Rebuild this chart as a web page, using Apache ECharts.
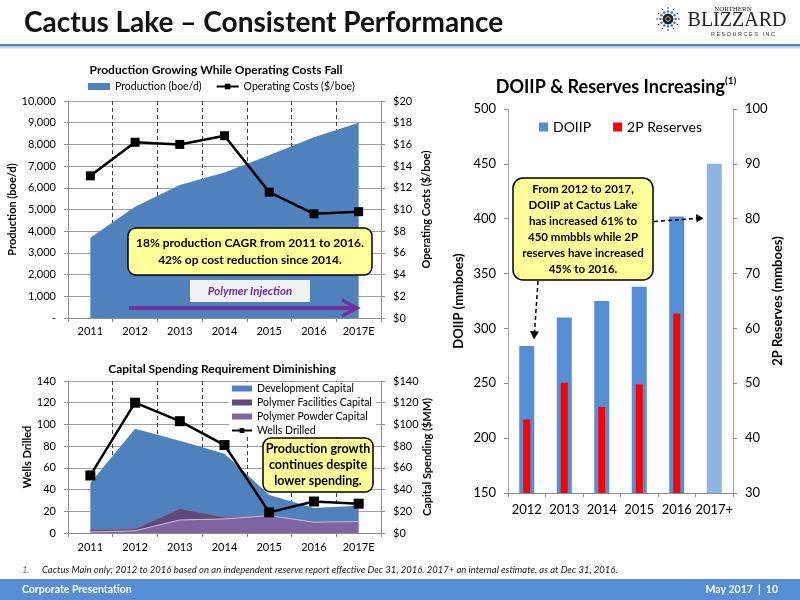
<!DOCTYPE html>
<html>
<head>
<meta charset="utf-8">
<script src="https://cdn.jsdelivr.net/npm/echarts@6/dist/echarts.min.js"></script>
<style>
  html, body { margin: 0; padding: 0; background: #fff; }
  #main { width: 800px; height: 600px; }
</style>
</head>
<body>
<div id="main"></div>
<script>
// production / operating cost chart
const years1 = ['2011', '2012', '2013', '2014', '2015', '2016', '2017E'];
const production = [3700, 5130, 6130, 6700, 7500, 8330, 9000];
const opCost = [13.1, 16.2, 16.0, 16.8, 11.6, 9.6, 9.8];

// capital spending chart (stacked, $MM)
const powderCap = [1, 2, 12, 13, 16, 10, 10.5];
const facilitiesCap = [2, 2, 10.5, 1.5, 0, 0, 0];
const developmentCap = [43, 92, 62.5, 58.5, 19, 13, 14.5];
const wellsDrilled = [53, 120, 103, 81, 19, 29, 27];

// DOIIP & reserves chart
const years3 = ['2012', '2013', '2014', '2015', '2016', '2017+'];
const doiip = [284, 310, 325, 338, 402, 450];
const reserves2p = [43.4, 50.1, 45.7, 49.8, 62.7, null];

const FONT = 'Lato, "Open Sans", sans-serif';
const BLUE = '#4F81BD';

var myChart = echarts.init(document.getElementById('main'));

function catAxis(gridIndex, data, margin, size) {
  return {
    type: 'category',
    gridIndex: gridIndex,
    data: data,
    boundaryGap: true,
    axisLine: { lineStyle: { color: '#8c8c8c' } },
    axisTick: { show: true, length: 4, lineStyle: { color: '#8c8c8c' } },
    axisLabel: { color: '#000', fontSize: size, fontFamily: FONT, margin: margin, interval: 0 },
    splitLine: { show: false }
  };
}

function valAxis(gridIndex, pos, min, max, step, fmt, name, gap, size) {
  return {
    type: 'value',
    gridIndex: gridIndex,
    position: pos,
    min: min,
    max: max,
    interval: step,
    name: name,
    nameLocation: 'middle',
    nameGap: gap,
    nameTextStyle: { color: '#000', fontSize: size, fontWeight: 'bold', fontFamily: FONT },
    axisLine: { show: true, lineStyle: { color: '#8c8c8c' } },
    axisTick: { show: true, length: 4, lineStyle: { color: '#8c8c8c' } },
    axisLabel: { color: '#000', fontSize: size, fontFamily: FONT, margin: 12, formatter: fmt },
    splitLine: { show: false }
  };
}

const dollar = function (v) { return '$' + v; };

var xAxes = [
  catAxis(0, years1, 8, 11),
  catAxis(1, years1, 9, 11),
  catAxis(2, years3, 10, 13),
  Object.assign(catAxis(2, years3, 10, 13), { show: false })
];
// dashed category separators on the two left charts
[0, 1].forEach(function (i) {
  xAxes[i].splitLine = {
    show: true,
    interval: function (idx) { return idx > 0; },
    lineStyle: { color: '#404040', type: [4, 3] }
  };
});

var yAxes = [
  valAxis(0, 'left', 0, 10000, 1000, function (v) { return v === 0 ? '-' : v.toLocaleString('en-US'); },
    'Production (boe/d)', 47, 11),
  valAxis(0, 'right', 0, 20, 2, dollar, 'Operating Costs ($/boe)', 40, 11),
  valAxis(1, 'left', 0, 140, 20, null, 'Wells Drilled', 32, 11),
  valAxis(1, 'right', 0, 140, 20, dollar, 'Capital Spending ($MM)', 40, 11),
  valAxis(2, 'left', 150, 500, 50, null, 'DOIIP (mmboes)', 43, 13),
  valAxis(2, 'right', 30, 100, 10, null, '2P Reserves (mmboes)', 30, 13)
];
yAxes[0].splitLine = { show: true, lineStyle: { color: '#a0a0a0' } };
yAxes[2].splitLine = { show: true, lineStyle: { color: '#a0a0a0' } };
yAxes[4].axisLine.lineStyle.color = '#a6a6a6';
yAxes[5].axisLine.lineStyle.color = '#a6a6a6';

function txt(text, x, y, size, opts) {
  opts = opts || {};
  return {
    type: 'text',
    z: 100,
    style: {
      text: text,
      x: x,
      y: y,
      fill: opts.fill || '#000',
      font: (opts.style || 'normal') + ' ' + (opts.weight || 'normal') + ' ' + size + 'px ' + (opts.family || FONT),
      align: opts.align || 'left',
      textAlign: opts.align || 'left',
      verticalAlign: 'middle',
      textVerticalAlign: 'middle',
      lineHeight: opts.lineHeight || size * 1.2
    }
  };
}

function box(x, y, w, h, r, fill, stroke) {
  return {
    type: 'rect',
    z: 99,
    shape: { x: x, y: y, width: w, height: h, r: r },
    style: { fill: fill, stroke: stroke || null, lineWidth: 1.5 }
  };
}

function line(points, color, width, dash) {
  return {
    type: 'polyline',
    z: 100,
    shape: { points: points },
    style: { stroke: color, lineWidth: width, fill: null, lineDash: dash || null }
  };
}

var graphics = [
  // header
  txt('Cactus Lake \u2013 Consistent Performance', 24, 23, 28, { weight: 'bold', fill: '#111' }),
  box(0, 44, 800, 2.5, 0, '#4F81BD'),
  box(0, 46.5, 800, 2, 0, '#C6D9F1'),
  txt('NORTHERN', 733, 9, 7, { family: '"Liberation Serif", serif', align: 'center', fill: '#222' }),
  txt('BLIZZARD', 737, 21, 20, { family: '"Liberation Serif", serif', align: 'center', fill: '#222' }),
  txt('R E S O U R C E S   I N C', 743, 34, 5.5, { family: '"Liberation Sans", sans-serif', align: 'center', fill: '#333' }),

  // chart titles
  txt('Production Growing While Operating Costs Fall', 216, 70, 12, { weight: 'bold', align: 'center' }),
  txt('Capital Spending Requirement Diminishing', 222, 369, 12, { weight: 'bold', align: 'center' }),
  {
    type: 'text',
    z: 100,
    style: {
      text: '{a|DOIIP & Reserves Increasing}{s|(1)}',
      x: 616, y: 87,
      align: 'center', textAlign: 'center',
      verticalAlign: 'middle', textVerticalAlign: 'middle',
      rich: {
        a: { font: 'bold 18px ' + FONT, fill: '#000', color: '#000', lineHeight: 22 },
        s: { font: 'bold 10px ' + FONT, fill: '#000', color: '#000', verticalAlign: 'top', lineHeight: 12 }
      }
    }
  },

  // chart 1 callouts
  box(128, 228, 244, 47, 8, '#FFFF99', '#000'),
  txt('18% production CAGR from 2011 to 2016.\n42% op cost reduction since 2014.', 250, 251.5, 12,
    { weight: 'bold', align: 'center', lineHeight: 17 }),
  box(190, 280, 120, 22, 0, '#F2F2F2'),
  txt('Polymer Injection', 250, 291, 11.5, { weight: 'bold', style: 'italic', align: 'center', fill: '#7030A0' }),
  line([[129, 308], [355, 308]], '#7030A0', 4),
  line([[342, 300], [357, 308], [342, 316]], '#7030A0', 3.5),

  // chart 2 callout
  box(263, 438, 110, 54, 8, '#FFFF99', '#000'),
  txt('Production growth\ncontinues despite\nlower spending.', 318, 465, 12.5,
    { weight: 'bold', align: 'center', lineHeight: 16 }),

  // chart 3 callout
  box(513, 178, 140, 102, 10, '#FFFF99', '#000'),
  txt('From 2012 to 2017,\nDOIIP at Cactus Lake\nhas increased 61% to\n450 mmbbls while 2P\nreserves have increased\n45% to 2016.',
    583, 229, 11.5, { weight: 'bold', align: 'center', lineHeight: 16 }),
  line([[538, 281], [534.5, 333]], '#000', 1.5, [4, 3]),
  { type: 'polygon', z: 100, shape: { points: [[530, 331], [539, 331.5], [534, 339.5]] }, style: { fill: '#000' } },
  line([[654, 221.5], [697, 218.5]], '#000', 1.5, [4, 3]),
  { type: 'polygon', z: 100, shape: { points: [[696, 214], [703.5, 218.3], [696.5, 222.5]] }, style: { fill: '#000' } },

  // footnote and footer
  txt('1.', 22, 570, 9.5, { style: 'italic', fill: '#4F81BD' }),
  txt('Cactus Main only; 2012 to 2016 based on an independent reserve report effective Dec 31, 2016. 2017+ an internal estimate, as at Dec 31, 2016.',
    42, 570, 9.5, { style: 'italic', fill: '#222' }),
  box(0, 579, 800, 21, 0, '#558ED5'),
  txt('Corporate Presentation', 22, 589.5, 10.5, { weight: 'bold', fill: '#fff' }),
  txt('May 2017  |  10', 778, 589.5, 10.5, { weight: 'bold', fill: '#fff', align: 'right' })
];

// logo snowflake
(function () {
  var cx = 668, cy = 19;
  for (var k = 0; k < 12; k++) {
    var a = k * Math.PI / 6;
    [4, 7.5, 11].forEach(function (r, j) {
      graphics.push({
        type: 'circle', z: 100,
        shape: { cx: cx + r * Math.cos(a), cy: cy + r * Math.sin(a), r: j === 0 ? 1.6 : (j === 1 ? 1.2 : 0.8) },
        style: { fill: j === 1 ? '#3b6fb6' : '#222' }
      });
    });
  }
  graphics.push({ type: 'circle', z: 100, shape: { cx: cx, cy: cy, r: 2 }, style: { fill: '#222' } });
})();

var option = {
  backgroundColor: '#fff',
  animation: false,
  textStyle: { fontFamily: FONT },
  grid: [
    { left: 68, top: 101, width: 313, height: 217 },
    { left: 68, top: 381, width: 313, height: 152 },
    { left: 508, top: 109, width: 225, height: 384 }
  ],
  legend: [
    {
      left: 88, top: 81, padding: 0, itemGap: 14, itemWidth: 22, itemHeight: 7,
      textStyle: { fontSize: 10.5, color: '#000', fontFamily: FONT },
      data: [{ name: 'Production (boe/d)', icon: 'rect' }, 'Operating Costs ($/boe)']
    },
    {
      left: 229, top: 382, orient: 'vertical', padding: [1, 4, 1, 2], itemGap: 3, itemWidth: 20, itemHeight: 6,
      backgroundColor: '#fff',
      textStyle: { fontSize: 10.5, color: '#000', fontFamily: FONT },
      data: [
        { name: 'Development Capital', icon: 'rect' },
        { name: 'Polymer Facilities Capital', icon: 'rect' },
        { name: 'Polymer Powder Capital', icon: 'rect' },
        'Wells Drilled'
      ]
    },
    {
      left: 539, top: 120, padding: 0, itemGap: 22, itemWidth: 9, itemHeight: 9,
      textStyle: { fontSize: 14, color: '#000', fontFamily: FONT },
      data: [{ name: 'DOIIP', icon: 'rect' }, { name: '2P Reserves', icon: 'rect' }]
    }
  ],
  xAxis: xAxes,
  yAxis: yAxes,
  series: [
    {
      name: 'Production (boe/d)', type: 'line', xAxisIndex: 0, yAxisIndex: 0,
      data: production, showSymbol: false, symbol: 'none',
      lineStyle: { width: 0 }, itemStyle: { color: BLUE },
      areaStyle: { color: BLUE, opacity: 1 }, z: 2
    },
    {
      name: 'Operating Costs ($/boe)', type: 'line', xAxisIndex: 0, yAxisIndex: 1,
      data: opCost, symbol: 'rect', symbolSize: 9,
      lineStyle: { color: '#000', width: 2.5 }, itemStyle: { color: '#000' }, z: 5
    },
    {
      name: 'Polymer Powder Capital', type: 'line', stack: 'cap', xAxisIndex: 1, yAxisIndex: 3,
      data: powderCap, symbol: 'none',
      lineStyle: { width: 1, color: '#C9B8DD' }, itemStyle: { color: '#8064A2' },
      areaStyle: { color: '#8064A2', opacity: 1 }, z: 4
    },
    {
      name: 'Polymer Facilities Capital', type: 'line', stack: 'cap', xAxisIndex: 1, yAxisIndex: 3,
      data: facilitiesCap, symbol: 'none',
      lineStyle: { width: 1, color: '#7D6A96' }, itemStyle: { color: '#604A7B' },
      areaStyle: { color: '#604A7B', opacity: 1 }, z: 3
    },
    {
      name: 'Development Capital', type: 'line', stack: 'cap', xAxisIndex: 1, yAxisIndex: 3,
      data: developmentCap, symbol: 'none',
      lineStyle: { width: 0 }, itemStyle: { color: BLUE },
      areaStyle: { color: BLUE, opacity: 1 }, z: 2
    },
    {
      name: 'Wells Drilled', type: 'line', xAxisIndex: 1, yAxisIndex: 2,
      data: wellsDrilled, symbol: 'rect', symbolSize: 10,
      lineStyle: { color: '#000', width: 2.5 }, itemStyle: { color: '#000' }, z: 6
    },
    {
      name: 'DOIIP', type: 'bar', xAxisIndex: 2, yAxisIndex: 4, barWidth: 15,
      itemStyle: { color: '#558ED5' },
      data: doiip.map(function (v, i) {
        return i === doiip.length - 1 ? { value: v, itemStyle: { color: '#8DB4E2' } } : v;
      })
    },
    {
      name: '2P Reserves', type: 'bar', xAxisIndex: 3, yAxisIndex: 5, barWidth: 7,
      itemStyle: { color: '#FF0000' }, data: reserves2p, z: 3
    }
  ],
  graphic: graphics
};

myChart.setOption(option);
</script>
</body>
</html>
